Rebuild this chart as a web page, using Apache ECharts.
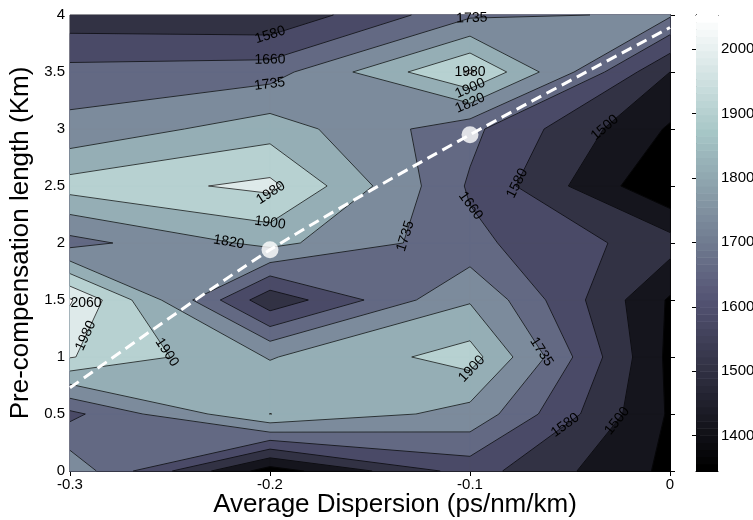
<!DOCTYPE html>
<html>
<head>
<meta charset="utf-8">
<script src="https://cdn.jsdelivr.net/npm/echarts@6/dist/echarts.min.js"></script>
<style>
  html, body { margin: 0; padding: 0; background: #fff; }
  #chart { width: 753px; height: 520px; }
</style>
</head>
<body>
<div id="chart"></div>
<script>
// grid of the contour map
var dispersion = [-0.3, -0.2, -0.1, 0];
var preLength = [0, 0.5, 1, 1.5, 2, 2.5, 3, 3.5, 4];
// values along pre-compensation length, one array per dispersion column
var zAtM03 = [1789, 1640, 1985, 2068, 1705, 1935, 1760, 1686, 1530];
var zAtM02 = [1380, 1901, 1815, 1525, 1845, 2000, 1865, 1700, 1515];
var zAtM01 = [1615, 1790, 1935, 1812, 1680, 1650, 1680, 1990, 1720];
var zAt0   = [1400, 1410, 1400, 1410, 1535, 1345, 1410, 1500, 1745];
var columns = [zAtM03, zAtM02, zAtM01, zAt0];

var levels = [1420, 1500, 1580, 1660, 1735, 1820, 1900, 1980, 2060];
var colorRange = [1345, 2053];
var colorbarTicks = [1400, 1500, 1600, 1700, 1800, 1900, 2000];

// optimum path (dashed) and its two marked points
var pathX = [-0.3, -0.2, -0.1, 0];
var pathY = [0.73, 1.94, 2.95, 3.89];
var markX = [-0.2, -0.1];
var markY = [1.94, 2.95];

// contour labels: level, approximate position
var labelLevel = [1580, 1660, 1735, 1980, 1900, 1820, 2060, 1980, 1900, 1980, 1900, 1820, 1735, 1500, 1580, 1660, 1735, 1900, 1735, 1580, 1500];
var labelX = [-0.2, -0.2, -0.2, -0.2, -0.2, -0.221, -0.292, -0.2875, -0.2525, -0.1, -0.1, -0.1, -0.099, -0.0315, -0.076, -0.101, -0.125, -0.1, -0.0665, -0.056, -0.03];
var labelY = [3.83, 3.6, 3.37, 2.45, 2.13, 1.965, 1.47, 1.15, 1.03, 3.5, 3.36, 3.23, 3.91, 2.99, 2.52, 2.31, 2.02, 0.91, 1.02, 0.49, 0.49];

// MATLAB bone colormap, 64 entries
function bone(t) {
    t = Math.max(0, Math.min(1, t));
    var hr = Math.min(1, t * 8 / 3);
    var hg = Math.min(1, Math.max(0, (t - 3 / 8) * 8 / 3));
    var hb = Math.max(0, (t - 3 / 4) * 4);
    var c = [(7 * t + hb) / 8, (7 * t + hg) / 8, (7 * t + hr) / 8];
    return 'rgb(' + c.map(function (v) { return Math.round(v * 255); }).join(',') + ')';
}
function colorOf(v) {
    var idx = Math.floor((v - colorRange[0]) / (colorRange[1] - colorRange[0]) * 64);
    idx = Math.max(0, Math.min(63, idx));
    return bone(idx / 63);
}

var FONT = '"Liberation Sans", Arial, sans-serif';

function renderContour(params, api) {
    var children = [];
    var nx = dispersion.length, ny = preLength.length;
    function P(x, y) { return api.coord([x, y]); }
    var bg = [P(dispersion[0], preLength[0]), P(dispersion[nx - 1], preLength[0]),
              P(dispersion[nx - 1], preLength[ny - 1]), P(dispersion[0], preLength[ny - 1])];
    children.push({ type: 'polygon', shape: { points: bg }, style: { fill: colorOf(colorRange[0]) } });

    var segs = {};
    levels.forEach(function (L) {
        var fill = colorOf(L);
        segs[L] = [];
        function addPoly(px) {
            children.push({ type: 'polygon', shape: { points: px },
                style: { fill: fill, stroke: fill, lineWidth: 0.6 } });
        }
        for (var i = 0; i < nx - 1; i++) {
            for (var j = 0; j < ny - 1; j++) {
                var cs = [[i, j], [i + 1, j], [i + 1, j + 1], [i, j + 1]];
                var pts = [], isX = [], sum = 0;
                for (var k = 0; k < 4; k++) {
                    var a = cs[k], b = cs[(k + 1) % 4];
                    var za = columns[a[0]][a[1]], zb = columns[b[0]][b[1]];
                    sum += za;
                    var xa = dispersion[a[0]], ya = preLength[a[1]];
                    var xb = dispersion[b[0]], yb = preLength[b[1]];
                    if (za >= L) { pts.push([xa, ya]); isX.push(false); }
                    if ((za >= L) !== (zb >= L)) {
                        var t = (L - za) / (zb - za);
                        pts.push([xa + (xb - xa) * t, ya + (yb - ya) * t]);
                        isX.push(true);
                    }
                }
                if (pts.length < 3) continue;
                var px = pts.map(function (p) { return P(p[0], p[1]); });
                var n = px.length;
                if (n === 6 && sum / 4 < L) {
                    // saddle, above corners kept apart
                    for (var c = 0; c < n; c++) {
                        if (isX[c]) continue;
                        var pv = px[(c + n - 1) % n], nxp = px[(c + 1) % n];
                        addPoly([pv, px[c], nxp]);
                        segs[L].push([pv, nxp]);
                    }
                    continue;
                }
                addPoly(px);
                for (var q = 0; q < n; q++) {
                    var r = (q + 1) % n;
                    if (isX[q] && isX[r]) segs[L].push([px[q], px[r]]);
                }
            }
        }
    });

    levels.forEach(function (L) {
        segs[L].forEach(function (s) {
            children.push({ type: 'line',
                shape: { x1: s[0][0], y1: s[0][1], x2: s[1][0], y2: s[1][1] },
                style: { stroke: '#000', lineWidth: 0.7 } });
        });
    });

    // labels snapped onto their contour
    labelLevel.forEach(function (L, n) {
        var target = P(labelX[n], labelY[n]);
        var best = null, bestD = Infinity;
        (segs[L] || []).forEach(function (s) {
            var ax = s[0][0], ay = s[0][1], bx = s[1][0], by = s[1][1];
            var dx = bx - ax, dy = by - ay;
            var len2 = dx * dx + dy * dy || 1;
            var t = ((target[0] - ax) * dx + (target[1] - ay) * dy) / len2;
            t = Math.max(0, Math.min(1, t));
            var cx = ax + dx * t, cy = ay + dy * t;
            var d = (cx - target[0]) * (cx - target[0]) + (cy - target[1]) * (cy - target[1]);
            if (d < bestD) { bestD = d; best = [cx, cy, Math.atan2(dy, dx), len2]; }
        });
        var rot = 0, lx = target[0], ly = target[1];
        // short bits (tiny closed contours) keep a flat label at the given spot
        if (best && bestD < 400 && best[3] > 150) {
            lx = best[0]; ly = best[1];
            rot = -best[2];
        }
        while (rot > Math.PI / 2) rot -= Math.PI;
        while (rot < -Math.PI / 2) rot += Math.PI;
        children.push({ type: 'text', x: lx, y: ly, rotation: rot,
            style: { text: String(L), x: 0, y: 0, fill: '#000', font: '14px ' + FONT,
                align: 'center', verticalAlign: 'middle',
                textAlign: 'center', textVerticalAlign: 'middle' } });
    });
    return { type: 'group', children: children };
}

function renderColorbar(params, api) {
    var children = [];
    var step = (colorRange[1] - colorRange[0]) / 64;
    for (var k = 0; k < 64; k++) {
        var p0 = api.coord([0, colorRange[0] + k * step]);
        var p1 = api.coord([1, colorRange[0] + (k + 1) * step]);
        children.push({ type: 'rect',
            shape: { x: p0[0], y: p1[1], width: p1[0] - p0[0], height: p0[1] - p1[1] + 0.5 },
            style: { fill: bone(k / 63) } });
    }
    return { type: 'group', children: children };
}

var chart = echarts.init(document.getElementById('chart'));
var axisText = { color: '#000', fontSize: 15, fontFamily: FONT };
var tickIn = { show: true, inside: true, length: 5, lineStyle: { color: '#000' } };
var lineBlack = { show: true, lineStyle: { color: '#000', width: 1 } };

chart.setOption({
    animation: false,
    backgroundColor: '#fff',
    grid: [
        { left: 70, right: 83, top: 15, bottom: 49, containLabel: false, outerBoundsMode: 'none' },
        { left: 696, width: 22, top: 15, bottom: 49, containLabel: false, outerBoundsMode: 'none' }
    ],
    xAxis: [
        { gridIndex: 0, type: 'value', min: -0.3, max: 0, interval: 0.1,
          axisLine: lineBlack, axisTick: tickIn, splitLine: { show: false },
          axisLabel: Object.assign({ margin: 6 }, axisText),
          name: 'Average Dispersion (ps/nm/km)', nameLocation: 'middle', nameGap: 21,
          nameMoveOverlap: false,
          nameTextStyle: { color: '#000', fontSize: 26, fontFamily: FONT, padding: [0, 0, 0, 50] } },
        { gridIndex: 0, type: 'value', position: 'top', min: -0.3, max: 0, interval: 0.1,
          axisLine: lineBlack, axisTick: tickIn, axisLabel: { show: false }, splitLine: { show: false } },
        { gridIndex: 1, type: 'value', min: 0, max: 1,
          axisLine: lineBlack, axisTick: { show: false }, axisLabel: { show: false }, splitLine: { show: false } },
        { gridIndex: 1, type: 'value', position: 'top', min: 0, max: 1,
          axisLine: lineBlack, axisTick: { show: false }, axisLabel: { show: false }, splitLine: { show: false } }
    ],
    yAxis: [
        { gridIndex: 0, type: 'value', min: 0, max: 4, interval: 0.5,
          axisLine: lineBlack, axisTick: tickIn, splitLine: { show: false },
          axisLabel: Object.assign({ margin: 5 }, axisText),
          name: 'Pre-compensation length (Km)', nameLocation: 'middle', nameGap: 36,
          nameMoveOverlap: false,
          nameTextStyle: { color: '#000', fontSize: 26, fontFamily: FONT } },
        { gridIndex: 0, type: 'value', position: 'right', min: 0, max: 4, interval: 0.5,
          axisLine: lineBlack, axisTick: tickIn, axisLabel: { show: false }, splitLine: { show: false } },
        { gridIndex: 1, type: 'value', position: 'right', min: colorRange[0], max: colorRange[1],
          axisLine: lineBlack, splitLine: { show: false },
          axisTick: { show: true, inside: true, length: 4, customValues: colorbarTicks, lineStyle: { color: '#000' } },
          axisLabel: Object.assign({ margin: 3, customValues: colorbarTicks,
              formatter: function (v) { return String(v); } }, axisText) },
        { gridIndex: 1, type: 'value', position: 'left', min: colorRange[0], max: colorRange[1],
          axisLine: lineBlack, splitLine: { show: false }, axisLabel: { show: false },
          axisTick: { show: true, inside: true, length: 4, customValues: colorbarTicks, lineStyle: { color: '#000' } } }
    ],
    series: [
        { type: 'custom', xAxisIndex: 0, yAxisIndex: 0, renderItem: renderContour,
          data: [[-0.15, 2]], z: 1, silent: true },
        { type: 'custom', xAxisIndex: 2, yAxisIndex: 2, renderItem: renderColorbar,
          data: [[0.5, 1700]], z: 1, silent: true },
        { type: 'line', xAxisIndex: 0, yAxisIndex: 0, z: 5,
          data: pathX.map(function (x, i) { return [x, pathY[i]]; }),
          showSymbol: false, smooth: 0.25,
          lineStyle: { color: '#fff', width: 3, type: [11, 6] } },
        { type: 'scatter', xAxisIndex: 0, yAxisIndex: 0, z: 6,
          data: markX.map(function (x, i) { return [x, markY[i]]; }),
          symbolSize: 17, itemStyle: { color: '#fff' } }
    ]
});
</script>
</body>
</html>
